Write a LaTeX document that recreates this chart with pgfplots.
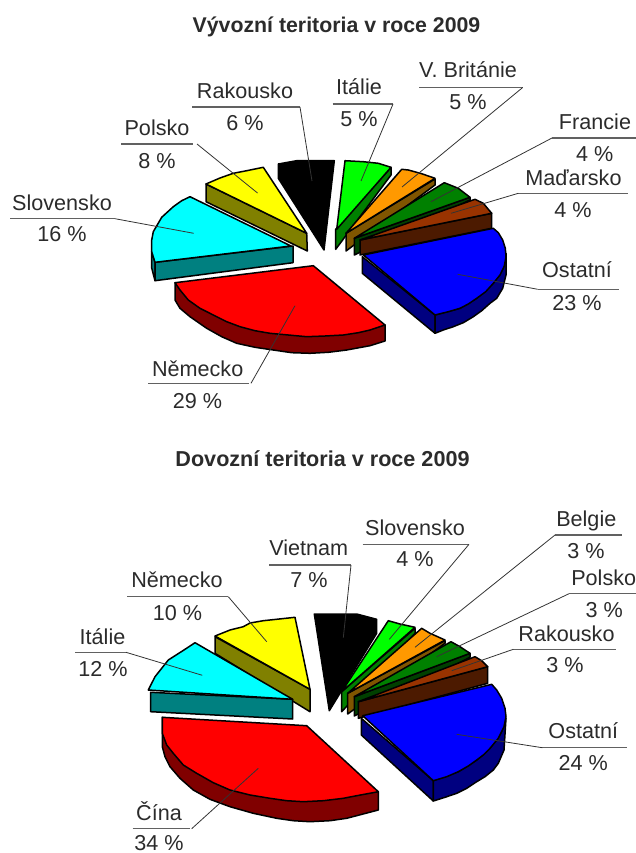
\documentclass[border=0pt]{standalone}
\usepackage{pgfplots}
\pgfplotsset{compat=1.18}
\usepackage{fontspec}
\setmainfont{Liberation Sans}
\definecolor{txt}{gray}{0.17}
\definecolor{lead}{gray}{0.2}
\definecolor{ul}{gray}{0.38}
\definecolor{hy}{HTML}{FFFF00}\definecolor{sy}{HTML}{808000}
\definecolor{hc}{HTML}{00FFFF}\definecolor{sc}{HTML}{008080}
\definecolor{hr}{HTML}{FF0000}\definecolor{sr}{HTML}{800000}
\definecolor{hb}{HTML}{0000FF}\definecolor{sb}{HTML}{000080}
\definecolor{hl}{HTML}{00FF00}\definecolor{sl}{HTML}{008000}
\definecolor{ho}{HTML}{FF9900}\definecolor{so}{HTML}{805500}
\definecolor{hg}{HTML}{008000}\definecolor{sg}{HTML}{004000}
\definecolor{hn}{HTML}{993300}\definecolor{sn}{HTML}{4C1A00}
\newcommand{\poly}[2]{\addplot[draw=black,line width=1.5pt,line join=round,fill=#1,mark=none] coordinates {#2} --cycle;}
\newcommand{\lab}[7]{% name, cx, baseline, pct, cx2, baseline2, unused
  \node[anchor=base,inner sep=0pt,text=txt,font=\fontsize{21.6}{26}\selectfont] at (axis cs:#2,#3) {#1};
  \node[anchor=base,inner sep=0pt,text=txt,font=\fontsize{21.6}{26}\selectfont] at (axis cs:#5,#6) {#4};}
\newcommand{\lead}[3]{\addplot[draw=ul,line width=1.2pt,mark=none] coordinates {#1};
  \addplot[draw=lead,line width=0.8pt,mark=none] coordinates {#2 #3};}
\begin{document}
\begin{tikzpicture}
\begin{axis}[scale only axis,width=636pt,height=853pt,xmin=0,xmax=636,ymin=0,ymax=853,y dir=reverse,hide axis,clip=false]
\addplot[draw=none,mark=none] coordinates {(0,0)(636,0)(636,853)(0,853)};
% ---------- chart 1
\poly{sy}{(206,184)(306.7,233.3)(307.3,251)(206,201.7)}
\poly{hy}{(206,184)(220,178)(233.3,173.3)(246.7,170.7)(263.3,167.3)(306.7,233.3)}
\poly{sc}{(151.7,251.7)(155,262.3)(155,280.7)(151.7,268)}
\poly{sc}{(155,262.3)(293,246)(293,262.7)(155,280.7)}
\poly{hc}{(291,246)(190,196.7)(181.7,200.7)(173.3,206.7)(161.7,217.3)(153.3,231.7)(151.7,240)(151.7,251.7)(155,262.3)}
\poly{black}{(278.3,164)(296.7,160.7)(334.3,160.7)(324,250)(278.3,178.3)}
\poly{sl}{(391,167.3)(391,175)(335.7,249.3)(335.7,229.3)}
\poly{hl}{(345,160.7)(363.3,161.7)(378.3,163.3)(391,167.3)(336.7,229.3)}
\poly{so}{(346,233.3)(435,179)(435,185)(346,251)}
\poly{ho}{(346,233.3)(401.7,169.3)(408.3,170)(421,173.5)(435,178.3)}
\poly{sg}{(470,197.3)(470,200)(354.3,255)(354.3,238.3)}
\poly{hg}{(354.3,238.3)(444.3,182.7)(458.3,188.3)(470,197.3)}
\poly{sn}{(491.7,213.3)(491.7,228.3)(360,255)(360,240)}
\poly{hn}{(360,240)(475,199.3)(483.3,203.3)(491.7,213.3)}
\poly{sb}{(362.3,256.7)(435,315)(435,333.3)(362.3,273.3)}
\poly{sb}{(435,315)(460,308.3)(476.7,298.3)(493.3,283.3)(503.3,268.3)(506,253.3)(506,275)(502.7,288.3)(496.7,298.3)(490,303.3)(481.7,310.7)(473.3,316.7)(463.3,322.7)(453.3,326.7)(443.3,330)(435,333.3)}
\poly{hb}{(363.3,255)(493.3,228.3)(498.3,232.7)(502.7,240)(505.3,248.3)(506,256.7)(504.3,266)(500,275)(493.3,283.3)(485.7,291.7)(476.7,298.3)(468.3,304)(460,308.3)(448.3,311.7)(435,315)}
\poly{sr}{(175,282.7)(175,300)(180,308.3)(190,316.7)(206.7,328.3)(221.7,336.7)(236.7,343.3)(255,347.3)(273.3,350)(291.7,352.7)(310,353.3)(328.3,352.3)(346.7,350)(370,345.7)(385,341)(385,325)}
\poly{hr}{(175,282.7)(313.3,265.7)(385,325)(370,330)(358.3,332.7)(343.3,335)(325,336)(306.7,336.7)(288.3,335)(270,333.3)(255,330.7)(240,326.7)(226.7,321.7)(213.3,315)(200,308.3)(188.3,300)(180,290)}
\lead{(192,107)(300,107)}{(300,107)}{(312,181)}
\lead{(121,144)(193,144)}{(197,144)}{(257.5,193)}
\lead{(10,218.7)(115,218.7)}{(115,218.7)}{(193.7,233.3)}
\lead{(332.7,104)(393,104)}{(393,104)}{(361,181)}
\lead{(419,87.5)(522.7,87.5)}{(522.7,87.5)}{(402,187)}
\lead{(552,138)(636,138)}{(552,138)}{(431,201.7)}
\lead{(518.3,193.3)(628,193.3)}{(518.3,193.3)}{(451,213.3)}
\lead{(537.7,289.3)(618.7,289.3)}{(537.7,289.3)}{(457.7,274.3)}
\lead{(148.3,383.3)(249.3,383.3)}{(251,383.3)}{(295,305.7)}
\node[anchor=base,inner sep=0pt,text=txt,font=\fontsize{21.3}{26}\bfseries] at (axis cs:336.5,33) {Vývozní teritoria v roce 2009};
\lab{Rakousko}{245}{99}{6 \%}{245}{131}{}
\lab{Polsko}{157}{136}{8 \%}{157}{168}{}
\lab{Slovensko}{62}{210}{16 \%}{62}{241}{}
\lab{Itálie}{359}{95}{5 \%}{359}{127}{}
\lab{V. Británie}{468}{77.5}{5 \%}{468}{110}{}
\lab{Francie}{595}{129.3}{4 \%}{594.7}{161.7}{}
\lab{Maďarsko}{573.5}{185.7}{4 \%}{573}{217.7}{}
\lab{Ostatní}{577}{277.7}{23 \%}{577}{310}{}
\lab{Německo}{197.7}{376}{29 \%}{197.5}{408.3}{}
% ---------- chart 2
\poly{sy}{(215,636.7)(310,689.3)(310,711.7)(215,653.3)}
\poly{hy}{(215,636)(230,630)(243.3,626.7)(250,623)(263.3,620.7)(295,617.3)(310,689.3)}
\poly{sc}{(150.7,692.3)(292.7,699.3)(292.7,719)(150.7,711.7)}
\poly{hc}{(195,642.7)(185,649.3)(168.3,660)(155,676.7)(148.3,690)(292.7,699.3)}
\poly{black}{(314.3,614)(356.7,614)(376.7,619.3)(376.7,633.3)(329.3,710.7)}
\poly{sl}{(415,628.3)(415,633.3)(341.7,711.7)(341.7,691.7)}
\poly{hl}{(341.7,691.7)(388.3,620.7)(400,624)(415,627.3)}
\poly{so}{(445,640.7)(445,643.3)(347.7,714)(347.7,693.3)}
\poly{ho}{(347.7,693.3)(421.7,628.3)(430,633.3)(445,640)}
\poly{sg}{(470,653.3)(470,657.3)(354.3,716)(354.3,696.7)}
\poly{hg}{(354.3,696.7)(451,641.7)(460,646.7)(470,653.3)}
\poly{sn}{(487.7,666.7)(487.7,683.3)(358.3,718.3)(358.3,701.7)}
\poly{hn}{(358.3,701.7)(475,656.7)(481.7,660.7)(487.7,666.7)}
\poly{sb}{(361.3,718.3)(433.3,780.7)(433.3,801)(361.3,735)}
\poly{sb}{(433.3,780.7)(458.3,771.7)(476.7,760)(490,748.3)(501.7,731.7)(506,718.3)(504,750)(498.3,763.3)(493.3,770)(485,776.7)(476.7,781.7)(466.7,788.3)(456.7,793.3)(445,797.3)(433.3,801)}
\poly{hb}{(362.7,715.7)(491.7,684.3)(496.7,690)(501.7,698.3)(505,708.3)(506,716.7)(504,726.7)(498.3,738.3)(490,748.3)(483.3,755)(476.7,760)(468.3,766)(458.3,771.7)(446.7,776.7)(433.3,780.7)}
\poly{sr}{(162.3,717.3)(162.3,746.7)(165,756.7)(170,766.7)(180,778.3)(193.3,790)(210,799.3)(230,806.7)(253.3,813.3)(276.7,818.3)(293.3,820.7)(310,821.7)(330,820.7)(346.7,818.3)(378.3,810)(378.3,791.7)}
\poly{hr}{(162.3,717.3)(306.7,725.7)(378.3,791.7)(356.7,795.7)(343.3,798.3)(323.3,800.7)(303.3,801.7)(286.7,800.7)(270,798.3)(250,795)(230,790)(213.3,782.7)(196.7,773.3)(183.3,765)(173.3,753.3)(166.7,745)(162.3,733.3)}
\lead{(269.3,565)(351,565)}{(351,565)}{(343.3,637.7)}
\lead{(127.3,596.7)(228.3,596.7)}{(228.3,596.7)}{(266.7,641.7)}
\lead{(75.3,652.3)(126,652.3)}{(126,652.3)}{(202.3,675.3)}
\lead{(362.7,544.3)(469,544.3)}{(469,544.3)}{(389.3,639.3)}
\lead{(555,535)(621.7,535)}{(555,535)}{(415,647.3)}
\lead{(569,593.7)(636,593.7)}{(569,593.7)}{(436.7,656.7)}
\lead{(513.3,649.3)(616,649.3)}{(513.3,649.3)}{(451.7,670.7)}
\lead{(542.3,747.7)(627.3,747.7)}{(542.3,747.7)}{(456.7,734.3)}
\lead{(132.7,828.7)(190,828.7)}{(191.7,828.7)}{(258.3,768.3)}
\node[anchor=base,inner sep=0pt,text=txt,font=\fontsize{21.6}{26}\bfseries] at (axis cs:322.5,466) {Dovozní teritoria v roce 2009};
\lab{Vietnam}{308.7}{555.7}{7 \%}{309}{587.7}{}
\lab{Německo}{177}{587.7}{10 \%}{177.5}{620}{}
\lab{Itálie}{102.5}{644}{12 \%}{103}{676}{}
\lab{Slovensko}{415}{535}{4 \%}{415}{566.7}{}
\lab{Belgie}{586.3}{526}{3 \%}{586}{558.3}{}
\lab{Polsko}{603.7}{585.7}{3 \%}{604.3}{617.7}{}
\lab{Rakousko}{566.5}{641}{3 \%}{565}{672.7}{}
\lab{Ostatní}{583.3}{738.7}{24 \%}{583.3}{770.7}{}
\lab{Čína}{159}{820.7}{34 \%}{159}{850}{}
\end{axis}
\pgfresetboundingbox
\path[use as bounding box] (current axis.south west) rectangle (current axis.north east);
\end{tikzpicture}
\end{document}
